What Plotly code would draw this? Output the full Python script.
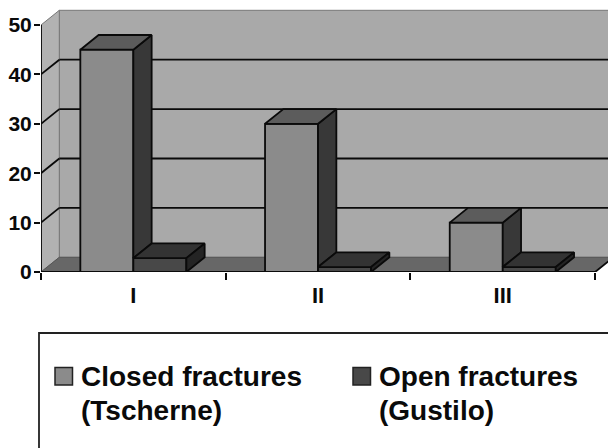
import plotly.graph_objects as go

categories = ["I", "II", "III"]
closed_lines = ["Closed fractures", "(Tscherne)"]
open_lines = ["Open fractures", "(Gustilo)"]
closed_values = [45, 30, 10]
open_values = [2.8, 1, 1]
y_ticks = [0, 10, 20, 30, 40, 50]

FONT = "Liberation Sans"
W, H = 608, 448
L, B, T = 41, 176, 8
CAT_PX = 184.7
Y_PX = 4.94
X_MAX = (W - L) / CAT_PX
Y_MAX = (H - B - T) / Y_PX
DX = 18.3 / CAT_PX
DY = 14.7 / Y_PX
BW = 0.287
N = len(categories)
CENTERS = [i + 0.5 for i in range(N)]
EDGE = "#0a0a0a"
CLOSED_FRONT = "#8b8b8b"
OPEN_FRONT = "#484848"
LW = 1.8

shapes = []


def px_x(p):
    return (p - L) / (W - L)


def px_y(p):
    return (H - B - p) / (H - B - T)


def poly(xs, ys):
    return "M" + "L".join(f"{a},{b}" for a, b in zip(xs, ys)) + "Z"


def wall(xs, ys, fill, line="#777777", width=1):
    shapes.append(dict(type="path", path=poly(xs, ys), xref="x", yref="y", layer="below",
                       fillcolor=fill, line=dict(color=line, width=width)))


top = max(y_ticks)
wall([DX, X_MAX + 1, X_MAX + 1, DX], [DY, DY, top + DY, top + DY], "#a9a9a9")
wall([0, DX, DX, 0], [0, DY, top + DY, top], "#b2b2b2")
wall([0, N, N + DX, DX], [0, 0, DY, DY], "#676767", line="#555555")
wall([N, N + 1, N + 1, N + DX], [0, 0, DY, DY], "#ffffff", line="#ffffff", width=0)

for v in y_ticks[1:-1]:
    shapes.append(dict(type="line", xref="x", yref="y", layer="below",
                       x0=0, y0=v, x1=DX, y1=v + DY, line=dict(color=EDGE, width=LW)))
    shapes.append(dict(type="line", xref="x", yref="y", layer="below",
                       x0=DX, y0=v + DY, x1=X_MAX, y1=v + DY, line=dict(color=EDGE, width=LW)))

# legend frame, running off the page as in the reference
shapes.append(dict(type="rect", xref="paper", yref="paper",
                   x0=px_x(39), x1=1.3, y0=px_y(470), y1=px_y(333),
                   line=dict(color="#222222", width=1.8)))

annotations = []
for lines, color, sw_x, tx_x in [(closed_lines, CLOSED_FRONT, 55, 79.5), (open_lines, OPEN_FRONT, 353, 377.5)]:
    shapes.append(dict(type="rect", xref="paper", yref="paper",
                       x0=px_x(sw_x), x1=px_x(sw_x + 17.5), y0=px_y(385), y1=px_y(367.5),
                       fillcolor=color, line=dict(color="#222222", width=1.5)))
    for line_text, mid_y in zip(lines, [376, 410]):
        annotations.append(dict(xref="paper", yref="paper", x=px_x(tx_x), y=px_y(mid_y), text=line_text,
                                xanchor="left", yanchor="middle", align="left", showarrow=False,
                                borderpad=0, font=dict(family=FONT, size=28, weight="bold", color="#0a0a0a")))

fig = go.Figure()
fig.add_bar(x=CENTERS, y=closed_values, width=BW, offset=-BW, name=" ".join(closed_lines),
            marker=dict(color=CLOSED_FRONT, line=dict(color=EDGE, width=LW)))
fig.add_bar(x=CENTERS, y=open_values, width=BW, offset=0, name=" ".join(open_lines),
            marker=dict(color=OPEN_FRONT, line=dict(color=EDGE, width=LW)))


def face(xs, ys, fill):
    fig.add_scatter(x=xs + xs[:1], y=ys + ys[:1], mode="lines", fill="toself", fillcolor=fill,
                    line=dict(color=EDGE, width=LW), showlegend=False, hoverinfo="skip",
                    cliponaxis=False)


# 3-D faces derived from the series values
for c, vc, vo in zip(CENTERS, closed_values, open_values):
    x0, x1 = c - BW, c
    face([x1, x1 + DX, x1 + DX, x1], [vo, vo + DY, vc + DY, vc], "#383838")
    face([x0, x1, x1 + DX, x0 + DX], [vc, vc, vc + DY, vc + DY], "#5c5c5c")
for c, vo in zip(CENTERS, open_values):
    x0, x1 = c, c + BW
    face([x0, x1, x1 + DX, x0 + DX], [vo, vo, vo + DY, vo + DY], "#333333")
    face([x1, x1 + DX, x1 + DX, x1], [0, DY, vo + DY, vo], "#242424")

# axis lines
fig.add_scatter(x=[0, 0], y=[0, top], mode="lines", line=dict(color=EDGE, width=LW),
                showlegend=False, hoverinfo="skip", cliponaxis=False)
fig.add_scatter(x=[0, N, N + DX], y=[0, 0, DY], mode="lines", line=dict(color=EDGE, width=LW),
                showlegend=False, hoverinfo="skip", cliponaxis=False)

fig.update_layout(
    width=W, height=H, autosize=False, barmode="overlay", paper_bgcolor="white", plot_bgcolor="white",
    margin=dict(l=L, r=0, t=T, b=B, pad=0), shapes=shapes, annotations=annotations, showlegend=False,
    font=dict(family=FONT, color="#0a0a0a"),
    xaxis=dict(range=[0, X_MAX], tickmode="array", tickvals=CENTERS, ticktext=categories,
               ticks="", showgrid=False, zeroline=False, showline=False, ticklabelstandoff=8,
               tickfont=dict(family=FONT, size=22, weight="bold", color="#0a0a0a"),
               minor=dict(tickmode="array", tickvals=list(range(N + 1)), ticks="outside",
                          ticklen=7, tickwidth=LW, tickcolor=EDGE, showgrid=False)),
    yaxis=dict(range=[0, Y_MAX], tickmode="array", tickvals=y_ticks, ticks="outside", ticklen=6,
               tickwidth=LW, tickcolor=EDGE, showgrid=False, zeroline=False, showline=False,
               ticklabelstandoff=-2, tickfont=dict(family=FONT, size=21, weight="bold", color="#0a0a0a")),
)
fig.write_html("out.html", config={"displayModeBar": False},
               post_script="document.body.style.margin='0';document.body.style.overflow='hidden';")
